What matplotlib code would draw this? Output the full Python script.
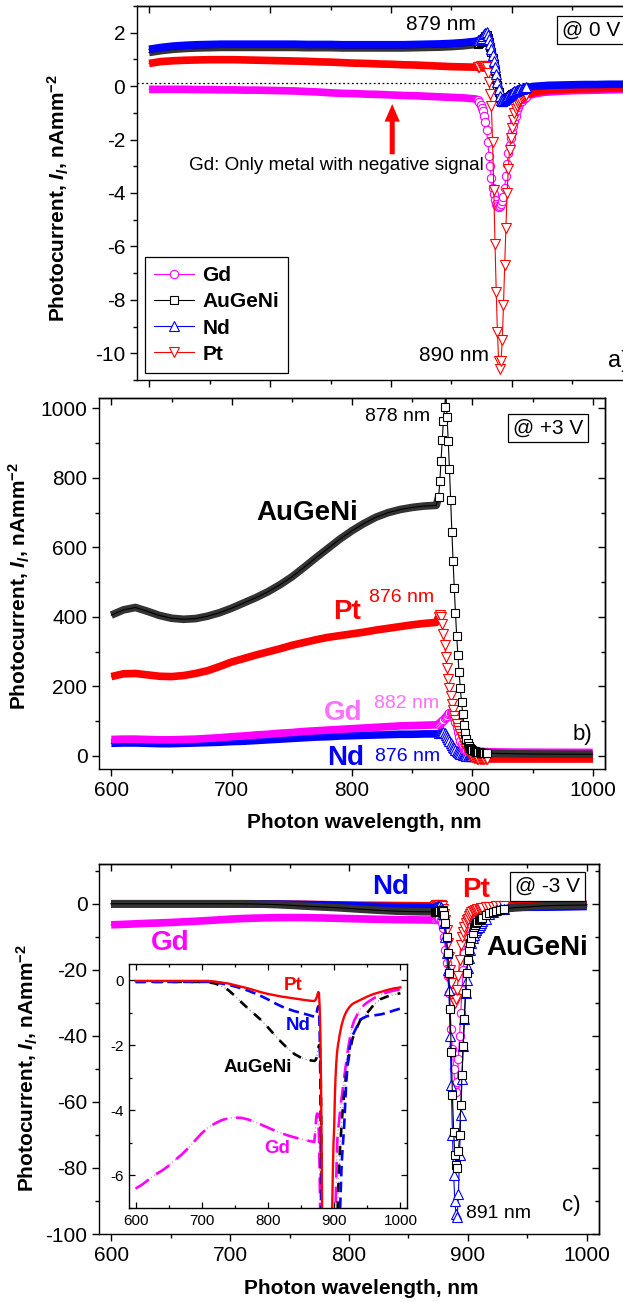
import numpy as np
import matplotlib
matplotlib.use("Agg")
import matplotlib.pyplot as plt
from matplotlib.ticker import MultipleLocator

plt.rcParams['font.family'] = ['Liberation Sans', 'DejaVu Sans']
plt.rcParams['axes.unicode_minus'] = False
plt.rcParams['mathtext.fontset'] = 'custom'
plt.rcParams['mathtext.rm'] = 'Liberation Sans:bold'
plt.rcParams['mathtext.it'] = 'Liberation Sans:italic:bold'
plt.rcParams['mathtext.bf'] = 'Liberation Sans:bold'

# wavelength grid (nm): coarse on the plateau, 1 nm through the resonance
WL = [600, 610, 620, 630, 640, 650, 660, 670, 680, 690, 700, 710, 720, 730,
      740, 750, 760, 770, 780, 790, 800, 810, 820, 830, 840, 850, 860, 870,
      872, 873, 874, 875, 876, 877, 878, 879, 880, 881, 882, 883, 884, 885,
      886, 887, 888, 889, 890, 891, 892, 893, 894, 895, 896, 897, 898, 899,
      900, 901, 902, 903, 904, 905, 906, 907, 908, 909, 910, 911, 912,
      915, 918, 921, 924, 927, 930, 940, 950, 960, 970, 980, 990, 1000]

# ---- a) 0 V ----
GD_A = [-0.12, -0.12, -0.12, -0.12, -0.13, -0.13, -0.14, -0.14, -0.15, -0.15,
        -0.16, -0.17, -0.18, -0.2, -0.22, -0.25, -0.27, -0.28, -0.3, -0.31,
        -0.33, -0.35, -0.36, -0.38, -0.4, -0.42, -0.44, -0.48,
        -0.52, -0.6, -0.7, -0.8, -0.92, -1.1, -1.35, -1.65, -2.1, -2.6,
        -3.0, -3.45, -3.8, -4.05, -4.25, -4.4, -4.48, -4.52, -4.5, -4.42,
        -4.3, -4.15, -3.8, -3.35, -2.9, -2.5, -2.2, -1.95, -1.7, -1.5,
        -1.3, -1.1, -0.9, -0.78, -0.68, -0.6, -0.54, -0.5, -0.46, -0.43, -0.4,
        -0.34, -0.3, -0.27, -0.25, -0.23, -0.22, -0.19, -0.17, -0.16, -0.15,
        -0.14, -0.13, -0.13]
AU_A = [1.26, 1.33, 1.38, 1.41, 1.43, 1.44, 1.45, 1.45, 1.45, 1.45, 1.45, 1.45,
        1.45, 1.44, 1.44, 1.44, 1.43, 1.43, 1.43, 1.43, 1.43, 1.43, 1.44, 1.45,
        1.46, 1.48, 1.51, 1.56,
        1.59, 1.62, 1.65, 1.7, 1.76, 1.82, 1.87, 1.9, 1.8, 1.64, 1.46, 1.26,
        1.05, 0.83, 0.58, 0.32, 0.05, -0.22, -0.45, -0.57, -0.6, -0.58, -0.54,
        -0.5, -0.46, -0.42, -0.38, -0.34, -0.31, -0.28, -0.25, -0.23, -0.21,
        -0.19, -0.17, -0.15, -0.14, -0.13, -0.12, -0.11, -0.1,
        -0.08, -0.06, -0.05, -0.04, -0.03, -0.02, -0.01, 0.0, 0.01, 0.01, 0.02,
        0.02, 0.03]
ND_A = [1.38, 1.45, 1.5, 1.53, 1.55, 1.56, 1.57, 1.57, 1.57, 1.57, 1.57, 1.57,
        1.57, 1.56, 1.56, 1.56, 1.55, 1.55, 1.55, 1.55, 1.55, 1.55, 1.56, 1.57,
        1.58, 1.6, 1.63, 1.68,
        1.71, 1.74, 1.77, 1.82, 1.88, 1.94, 1.99, 2.02, 1.92, 1.76, 1.58, 1.38,
        1.17, 0.95, 0.7, 0.44, 0.17, -0.12, -0.38, -0.52, -0.55, -0.53, -0.49,
        -0.45, -0.41, -0.37, -0.33, -0.29, -0.26, -0.23, -0.2, -0.18, -0.16,
        -0.14, -0.12, -0.1, -0.09, -0.08, -0.07, -0.06, -0.05,
        -0.03, -0.01, 0.0, 0.01, 0.02, 0.03, 0.04, 0.05, 0.06, 0.06, 0.07,
        0.07, 0.08]
PT_A = [0.85, 0.92, 0.95, 0.97, 0.98, 0.99, 0.99, 0.99, 0.98, 0.97, 0.96, 0.95,
        0.94, 0.93, 0.91, 0.9, 0.88, 0.86, 0.85, 0.83, 0.82, 0.8, 0.79, 0.77,
        0.75, 0.73, 0.72, 0.71,
        0.72, 0.73, 0.74, 0.75, 0.76, 0.77, 0.77, 0.72, 0.48, 0.15, -0.3, -0.75,
        -2.1, -3.9, -5.9, -7.7, -9.2, -10.3, -10.6, -10.3, -9.5, -8.2, -6.7,
        -5.3, -4.0, -3.1, -2.4, -1.95, -1.55, -1.25, -1.02, -0.86, -0.74,
        -0.64, -0.56, -0.5, -0.45, -0.41, -0.38, -0.35, -0.33,
        -0.28, -0.24, -0.21, -0.19, -0.17, -0.16, -0.13, -0.11, -0.1, -0.09,
        -0.08, -0.07, -0.07]

# ---- b) +3 V ----
GD_B = [47, 48, 48, 47, 46, 46, 47, 48, 50, 52, 55, 57, 60, 62, 65, 67, 70, 72,
        74, 76, 78, 80, 82, 84, 86, 87, 88, 89,
        92, 94, 97, 100, 104, 108, 112, 116, 119, 122, 124, 123, 117, 108, 96,
        83, 69, 55, 43, 33, 26, 20, 17, 15.5, 14.5, 14, 13.5, 13.2, 13, 12.8,
        12.6, 12.4, 12.3, 12.2, 12.1, 12, 12, 11.9, 11.9, 11.8, 11.8,
        11.6, 11.4, 11.2, 11, 10.9, 10.8, 10.5, 10.3, 10.1, 10, 9.9, 9.8, 9.7]
AU_B = [405, 420, 427, 416, 404, 396, 393, 395, 402, 412, 425, 440, 455, 472,
        492, 515, 542, 570, 597, 624, 648, 669, 687, 700, 709, 715, 719, 721,
        745, 790, 850, 910, 965, 1005, 1045, 975, 905, 825, 735, 645, 560, 482,
        410, 345, 290, 240, 195, 155, 120, 90, 66, 49, 37, 29, 23, 19, 16, 14,
        12.5, 11.5, 10.5, 10, 9.5, 9, 8.7, 8.4, 8.2, 8, 7.8,
        7.4, 7, 6.7, 6.4, 6.2, 6, 5.5, 5.2, 5, 4.8, 4.6, 4.5, 4.4]
ND_B = [36, 37, 37, 36, 35, 35, 36, 37, 38, 39, 41, 42, 44, 46, 48, 50, 52, 54,
        55, 57, 58, 59, 60, 61, 62, 62, 63, 63,
        65, 67, 68, 69, 69, 66, 61, 55, 49, 43, 37, 31, 26, 22, 18, 14, 11, 8.5,
        6.5, 4.5, 3, 2, 1, 0.5, 0, -0.3, -0.5, -0.7, -0.8, -0.9, -1, -1, -1,
        -1, -1, -1, -1, -1, -1, -1, -1,
        -1, -1, -1, -1, -1, -1, -1, -1, -1, -1, -1, -1, -1]
PT_B = [228, 236, 237, 233, 229, 228, 231, 237, 245, 257, 270, 280, 290, 299,
        308, 318, 326, 334, 341, 346, 351, 356, 362, 367, 372, 377, 381, 384,
        400, 406, 400, 378, 350, 318, 285, 252, 222, 196, 172, 150, 131, 115,
        102, 91, 81, 72, 63, 55, 46, 37, 29, 21, 14, 8, 3, -1, -4, -6, -7,
        -7.5, -8, -8, -8, -8, -8, -8, -8, -8, -8,
        -8, -8, -8, -8, -8, -8, -8, -8, -8, -8, -8, -8, -8]

# ---- c) -3 V ----
GD_C = [-6.4, -6.28, -6.12, -5.97, -5.85, -5.7, -5.52, -5.35, -5.15, -4.92,
        -4.7, -4.52, -4.4, -4.3, -4.24, -4.22, -4.23, -4.28, -4.35, -4.44,
        -4.53, -4.62, -4.7, -4.77, -4.83, -4.88, -4.93, -4.97,
        -4.5, -4.2, -4.1, -4.1, -4.3, -4.8, -5.8, -7.5, -10, -14, -18, -22, -27,
        -32, -38, -44, -50, -55, -57, -54, -47, -40, -33, -26, -20, -15, -11.5,
        -9.5, -8.3, -7.5, -7.0, -6.2, -5.4, -4.8, -4.6, -4.4, -4.2, -4.0, -3.8,
        -3.65, -3.5,
        -3.0, -2.55, -2.1, -1.75, -1.44, -1.25, -0.85, -0.68, -0.55, -0.45,
        -0.37, -0.32, -0.28]
AU_C = [-0.05, -0.05, -0.05, -0.05, -0.05, -0.05, -0.05, -0.05, -0.05, -0.05,
        -0.05, -0.06, -0.1, -0.18, -0.3, -0.48, -0.68, -0.87, -1.05, -1.23,
        -1.45, -1.68, -1.9, -2.1, -2.27, -2.38, -2.45, -2.48,
        -2.45, -2.4, -2.3, -2.2, -2.1, -2.0, -2.0, -2.3, -3.5, -6, -10, -15,
        -21, -32, -45, -58, -69, -76, -79, -80, -75, -70, -61, -52, -43, -35,
        -27, -21, -17, -14, -12, -10.5, -8.8, -7.2, -6.5, -6.0, -5.5, -5.1,
        -4.8, -4.5, -4.2,
        -3.5, -2.9, -2.5, -2.15, -1.85, -1.65, -1.2, -1.0, -0.75, -0.58, -0.5,
        -0.44, -0.4]
ND_C = [-0.05, -0.05, -0.05, -0.05, -0.05, -0.05, -0.05, -0.05, -0.05, -0.05,
        -0.05, -0.05, -0.07, -0.1, -0.14, -0.19, -0.25, -0.32, -0.4, -0.49,
        -0.59, -0.7, -0.8, -0.88, -0.95, -1.0, -1.06, -1.12,
        -1.1, -1.05, -0.95, -0.85, -0.8, -0.9, -1.5, -3, -6, -10, -15, -20,
        -26, -40, -55, -70, -82, -90, -94, -95, -88, -76, -64, -53, -43, -35,
        -27, -23, -19.5, -16.5, -14, -12, -10.5, -9.5, -8.7, -8, -7.5, -7,
        -6.4, -5.8, -5.4,
        -4.5, -3.2, -2.4, -2.0, -1.75, -1.6, -1.2, -1.1, -1.08, -1.05, -1.0,
        -0.93, -0.87]
PT_C = [-0.02, -0.02, -0.02, -0.02, -0.02, -0.02, -0.02, -0.02, -0.02, -0.02,
        -0.02, -0.02, -0.04, -0.07, -0.1, -0.15, -0.2, -0.25, -0.31, -0.37,
        -0.42, -0.46, -0.5, -0.53, -0.56, -0.59, -0.62, -0.64,
        -0.6, -0.55, -0.5, -0.42, -0.36, -0.4, -0.8, -1.5, -3, -5, -8, -12,
        -16, -20, -24, -27, -29.5, -30, -29, -26, -22, -17, -12.5, -10, -8.5,
        -7, -5.8, -5, -4.5, -3.6, -3.0, -2.6, -2.3, -2.1, -1.95, -1.85, -1.7,
        -1.6, -1.5, -1.4, -1.32,
        -1.12, -0.98, -0.88, -0.8, -0.74, -0.7, -0.6, -0.5, -0.42, -0.36,
        -0.3, -0.25, -0.22]

MAGENTA = '#ff00ff'
PINK = '#ff70ff'
BLUE = '#0000ff'
RED = '#ff0000'
BLACK = '#000000'
W, H = 623.0, 1302.0


def px_axes(fig, left, top, right, bottom):
    """add axes from pixel edges (y counted from the top)"""
    return fig.add_axes([left / W, 1 - bottom / H, (right - left) / W,
                         (bottom - top) / H])


def style_axes(ax, xmaj, xmin, ymaj, ymin):
    for s in ax.spines.values():
        s.set_linewidth(1.0)
    ax.xaxis.set_major_locator(MultipleLocator(xmaj))
    ax.xaxis.set_minor_locator(MultipleLocator(xmin))
    ax.yaxis.set_major_locator(MultipleLocator(ymaj))
    ax.yaxis.set_minor_locator(MultipleLocator(ymin))
    ax.tick_params(which='both', direction='out', width=1.0, labelsize=15,
                   pad=3.5)
    ax.tick_params(which='major', length=5)
    ax.tick_params(which='minor', length=3)
    top = ax.secondary_xaxis('top')
    top.xaxis.set_major_locator(MultipleLocator(xmaj))
    top.xaxis.set_minor_locator(MultipleLocator(xmin))
    right = ax.secondary_yaxis('right')
    right.yaxis.set_major_locator(MultipleLocator(ymaj))
    right.yaxis.set_minor_locator(MultipleLocator(ymin))
    for sec in (top, right):
        sec.tick_params(which='both', direction='in', width=1.0,
                        labeltop=False, labelright=False)
        sec.tick_params(which='major', length=5)
        sec.tick_params(which='minor', length=3)
        for s in sec.spines.values():
            s.set_linewidth(1.0)


def draw_series(ax, vals, color, marker, lo, hi, ms=6, band=None):
    wl = np.array(WL, dtype=float)
    y = np.array(vals, dtype=float)
    steep = (wl >= lo) & (wl <= hi)
    band = band or color
    for part in (wl <= lo, wl >= hi):
        ax.plot(wl[part], y[part], color=band, lw=5.5, solid_capstyle='butt')
    line, = ax.plot(wl, y, color=color, lw=0.8, marker=marker, ms=ms,
                    mfc='white', mec=color, mew=0.8,
                    markevery=steep.tolist())
    return line


def boxed(ax, x, y, s, ha='center'):
    ax.text(x, y, s, fontsize=15, ha=ha, va='center', zorder=10,
            bbox=dict(boxstyle='square,pad=0.22', fc='white', ec='k', lw=0.9))


fig = plt.figure(figsize=(W / 100, H / 100), dpi=100)
ylab = r'Photocurrent, $I_l$, nAmm$^{-2}$'

# ---------------- panel a ----------------
ax_a = px_axes(fig, 137, 6, 645, 380)
ax_a.set_xlim(590, 1010)
ax_a.set_ylim(-11, 3)
style_axes(ax_a, 100, 50, 2, 1)
ax_a.tick_params(labelbottom=False)
ax_a.axhline(0.1, color='k', lw=0.9, ls=(0, (1.5, 2)), zorder=1)
l_au = draw_series(ax_a, AU_A, BLACK, 's', 872, 912, ms=5.5, band='#333333')
l_gd = draw_series(ax_a, GD_A, MAGENTA, 'o', 872, 912)
l_pt = draw_series(ax_a, PT_A, RED, 'v', 872, 912, ms=6.5)
l_nd = draw_series(ax_a, ND_A, BLUE, '^', 872, 912, ms=6.5)
ax_a.set_ylabel(ylab, fontsize=15, fontweight='bold')
ax_a.yaxis.set_label_coords(-0.129, 0.487)
ax_a.text(841, 2.32, '879 nm', fontsize=15, ha='center', va='center')
ax_a.text(852, -10.1, '890 nm', fontsize=15, ha='center', va='center')
ax_a.text(755, -2.96, 'Gd: Only metal with negative signal', fontsize=13.6,
          ha='center', va='center')
ax_a.annotate('', xy=(801, -0.67), xytext=(801, -2.55),
              arrowprops=dict(arrowstyle='simple,head_width=1.0,'
                              'head_length=1.15,tail_width=0.33',
                              mutation_scale=11, fc=RED, ec='none',
                              shrinkA=0, shrinkB=0))
boxed(ax_a, 941, 2.1, '@ 0 V', ha='left')
ax_a.text(979, -10.3, 'a)', fontsize=17, ha='left', va='center')
leg = ax_a.legend(handles=[l_gd, l_au, l_nd, l_pt],
                  labels=['Gd', 'AuGeNi', 'Nd', 'Pt'], loc='upper left',
                  bbox_to_anchor=(145 / W, 1 - 257 / H),
                  bbox_transform=fig.transFigure, borderaxespad=0,
                  fancybox=False, edgecolor='k', framealpha=1,
                  prop={'weight': 'bold', 'size': 15}, handlelength=1.9,
                  handletextpad=0.4, labelspacing=0.34, borderpad=0.45)
leg.get_frame().set_linewidth(0.9)

# ---------------- panel b ----------------
ax_b = px_axes(fig, 99.3, 398, 604.7, 769)
ax_b.set_xlim(590, 1010)
ax_b.set_ylim(-38, 1030)
style_axes(ax_b, 100, 50, 200, 100)
draw_series(ax_b, ND_B, BLUE, '^', 872, 912, ms=6.5)
draw_series(ax_b, GD_B, MAGENTA, 'o', 872, 912)
draw_series(ax_b, PT_B, RED, 'v', 872, 912, ms=6.5)
draw_series(ax_b, AU_B, BLACK, 's', 872, 912, ms=5.5, band='#333333')
ax_b.set_ylabel(ylab, fontsize=15, fontweight='bold')
ax_b.yaxis.set_label_coords(-0.133, 0.492)
ax_b.set_xlabel('Photon wavelength, nm', fontsize=15, fontweight='bold')
ax_b.xaxis.set_label_coords(0.524, -0.119)
ax_b.text(838, 976, '878 nm', fontsize=14, ha='center', va='center')
ax_b.text(763, 699, 'AuGeNi', fontsize=20, fontweight='bold', ha='center',
          va='center')
ax_b.text(796, 415, 'Pt', fontsize=20, fontweight='bold', color=RED,
          ha='center', va='center')
ax_b.text(841, 455, '876 nm', fontsize=14, color=RED, ha='center',
          va='center')
ax_b.text(793, 123, 'Gd', fontsize=20, fontweight='bold', color=PINK,
          ha='center', va='center')
ax_b.text(845, 150, '882 nm', fontsize=14, color=PINK, ha='center',
          va='center')
ax_b.text(795, -6, 'Nd', fontsize=20, fontweight='bold', color=BLUE,
          ha='center', va='center')
ax_b.text(846, -2, '876 nm', fontsize=14, color=BLUE, ha='center',
          va='center')
boxed(ax_b, 963, 944, '@ +3 V')
ax_b.text(983, 60, 'b)', fontsize=16, ha='left', va='center')

# ---------------- panel c ----------------
ax_c = px_axes(fig, 99.3, 864, 598.7, 1234)
ax_c.set_xlim(590, 1010)
ax_c.set_ylim(-100, 12)
style_axes(ax_c, 100, 50, 20, 10)
draw_series(ax_c, GD_C, MAGENTA, 'o', 872, 930)
draw_series(ax_c, PT_C, RED, 'v', 872, 930, ms=6.5)
draw_series(ax_c, ND_C, BLUE, '^', 872, 930, ms=6.5)
draw_series(ax_c, AU_C, BLACK, 's', 872, 930, ms=5.5, band='#333333')
ax_c.set_ylabel(ylab, fontsize=15, fontweight='bold')
ax_c.yaxis.set_label_coords(-0.119, 0.449)
ax_c.set_xlabel('Photon wavelength, nm', fontsize=15, fontweight='bold')
ax_c.xaxis.set_label_coords(0.524, -0.122)
ax_c.text(835, 4.9, 'Nd', fontsize=20, fontweight='bold', color=BLUE,
          ha='center', va='center')
ax_c.text(907, 4.0, 'Pt', fontsize=20, fontweight='bold', color=RED,
          ha='center', va='center')
ax_c.text(958, -13.5, 'AuGeNi', fontsize=20, fontweight='bold', ha='center',
          va='center')
ax_c.text(650, -12, 'Gd', fontsize=20, fontweight='bold', color=MAGENTA,
          ha='center', va='center')
boxed(ax_c, 967, 5.2, '@ -3 V')
ax_c.text(926, -93.7, '891 nm', fontsize=14, ha='center', va='center')
ax_c.text(979, -91.3, 'c)', fontsize=16, ha='left', va='center')

# ---------------- inset of panel c ----------------
ax_in = px_axes(fig, 129, 964, 407, 1208)
ax_in.set_zorder(5)
ax_in.set_facecolor('white')
ax_in.set_xlim(590, 1010)
ax_in.set_ylim(-7, 0.5)
for s in ax_in.spines.values():
    s.set_linewidth(1.0)
ax_in.xaxis.set_major_locator(MultipleLocator(100))
ax_in.xaxis.set_minor_locator(MultipleLocator(50))
ax_in.yaxis.set_major_locator(MultipleLocator(2))
ax_in.yaxis.set_minor_locator(MultipleLocator(1))
ax_in.tick_params(which='both', direction='in', top=True, right=True,
                  width=0.9, labelsize=11, pad=4)
ax_in.tick_params(which='major', length=4)
ax_in.tick_params(which='minor', length=2.5)
ax_in.plot(WL, GD_C, color=PINK, lw=0.9, ls=(0, (1, 2)))
ax_in.plot(WL, GD_C, color=MAGENTA, lw=1.9, ls=(0, (6, 3.5)))
ax_in.plot(WL, AU_C, color='#999999', lw=0.9, ls=(0, (1, 2)))
ax_in.plot(WL, AU_C, color=BLACK, lw=1.9, ls=(0, (3.5, 3.5)))
ax_in.plot(WL, ND_C, color=BLUE, lw=1.9, ls=(0, (4, 2)))
ax_in.plot(WL, PT_C, color=RED, lw=1.7)
ax_in.text(838, -0.15, 'Pt', fontsize=13.5, fontweight='bold', color=RED,
           ha='center', va='center')
ax_in.text(846, -1.38, 'Nd', fontsize=13.5, fontweight='bold', color=BLUE,
           ha='center', va='center')
ax_in.text(784, -2.67, 'AuGeNi', fontsize=13.5, fontweight='bold',
           ha='center', va='center')
ax_in.text(814, -5.18, 'Gd', fontsize=13.5, fontweight='bold', color=MAGENTA,
           ha='center', va='center')

fig.savefig('out.png', dpi=100)
